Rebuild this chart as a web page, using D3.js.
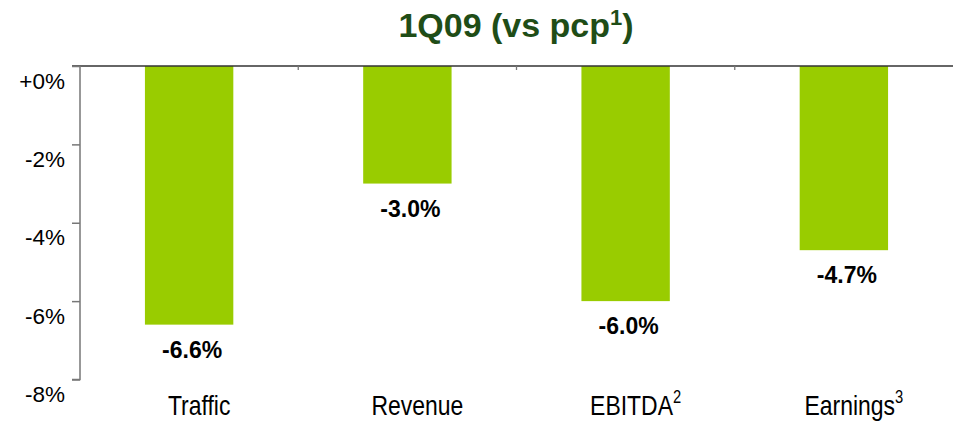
<!DOCTYPE html>
<html><head><meta charset="utf-8">
<script src="https://cdn.jsdelivr.net/npm/d3@7"></script>
<style>html,body{margin:0;padding:0;background:#fff;}svg{display:block;}</style>
</head><body>
<svg id="chart" width="953" height="423"></svg>
<script>
const categories = ["Traffic", "Revenue", "EBITDA", "Earnings"];
const superscripts = ["", "", "2", "3"];
const values = [-6.6, -3.0, -6.0, -4.7];
const valueLabels = ["-6.6%", "-3.0%", "-6.0%", "-4.7%"];
const yTicks = [0, -2, -4, -6, -8];
const yTickLabels = ["+0%", "-2%", "-4%", "-6%", "-8%"];
const titleText = "1Q09 (vs pcp";
const titleSup = "1";

const svg = d3.select("#chart");
const font = "'Liberation Sans', Arial, sans-serif";

const x = d3.scaleBand().domain(categories).range([80, 953]).paddingInner(0).paddingOuter(0);
const y = d3.scaleLinear().domain([-8, 0]).range([379.5, 66]);
const barW = x.bandwidth() * 0.405;

// title
const t = svg.append("text").attr("x", 516).attr("y", 37).attr("text-anchor", "middle")
  .attr("font-family", font).attr("font-weight", "bold").attr("font-size", 34).attr("fill", "#1f4d17");
t.append("tspan").text(titleText);
t.append("tspan").attr("font-size", 22).attr("dy", -12).text(titleSup);
t.append("tspan").attr("dy", 12).text(")");

// bars
svg.append("g").selectAll("rect").data(values).join("rect")
  .attr("x", (d, i) => x(categories[i]) + x.bandwidth() / 2 - barW / 2)
  .attr("y", y(0))
  .attr("width", barW)
  .attr("height", d => y(d) - y(0))
  .attr("fill", "#99cc00");

// value labels
svg.append("g").selectAll("text").data(values).join("text")
  .attr("x", (d, i) => x(categories[i]) + x.bandwidth() / 2 + 3)
  .attr("y", d => y(d) + 33)
  .attr("text-anchor", "middle")
  .attr("font-family", font).attr("font-weight", "bold").attr("font-size", 23)
  .attr("fill", "#000")
  .text((d, i) => valueLabels[i]);

// top baseline
svg.append("line").attr("x1", 72).attr("x2", 953).attr("y1", y(0)).attr("y2", y(0))
  .attr("stroke", "#333").attr("stroke-width", 1.3);

// category separators (ticks on top line)
const bounds = categories.slice(1).map(c => x(c));
svg.append("g").selectAll("line").data(bounds).join("line")
  .attr("x1", d => d).attr("x2", d => d).attr("y1", y(0)).attr("y2", y(0) + 4)
  .attr("stroke", "#777").attr("stroke-width", 1.3);

// y axis
const yAxis = d3.axisLeft(y).tickValues(yTicks).tickSize(8).tickFormat((d, i) => yTickLabels[i]);
const ga = svg.append("g").attr("transform", "translate(80,0)").call(yAxis);
ga.select(".domain").attr("stroke", "#777").attr("stroke-width", 1.5).attr("d", `M-8,${y(-8)}H0V${y(0)}`);
ga.selectAll(".tick line").attr("stroke", "#777").attr("stroke-width", 1.5);
ga.selectAll(".tick text").attr("font-family", font).attr("font-size", 22.5).attr("fill", "#000")
  .attr("x", -15).attr("dy", null).attr("y", 22);

// category labels
const cl = svg.append("g").selectAll("text").data(categories).join("text")
  .attr("text-anchor", "middle")
  .attr("font-family", font).attr("font-size", 28).attr("fill", "#000")
  .attr("transform", (d, i) => { const cx = x(d) + x.bandwidth() / 2 + 10; return `translate(${cx},415) scale(0.82,1)`; });
cl.append("tspan").text(d => d);
cl.append("tspan").attr("font-size", 18).attr("dy", -12).text((d, i) => superscripts[i]);
</script>
</body></html>
